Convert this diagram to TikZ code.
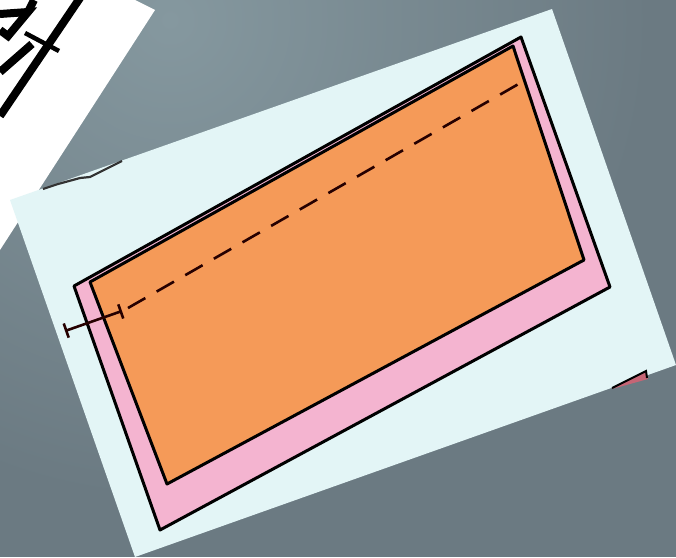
\documentclass[tikz,border=0pt]{standalone}
\usepackage{xcolor}
\usetikzlibrary{arrows.meta}
\definecolor{slate}{HTML}{6B7A82}
\definecolor{slatelight}{HTML}{85989F}
\definecolor{panelblue}{HTML}{E3F5F6}
\definecolor{sheetpink}{HTML}{F4B4D0}
\definecolor{sheetorange}{HTML}{F59A58}
\tikzset{
  outline/.style={draw=black, line width=3pt, line join=round},
  sketch/.style={draw=black, line width=8pt},
  dimline/.style={draw=black!85!red, line width=2.6pt},
  centreline/.style={dimline, dash pattern=on 20pt off 13pt},
}
\begin{document}
\begin{tikzpicture}[x=1pt, y=-1pt]
\useasboundingbox (0,0) rectangle (676,557);
% backdrop
\fill[slate] (0,0) rectangle (676,557);
\begin{scope}
\clip (0,0) rectangle (676,557);
\shade[inner color=slatelight, outer color=slate] (170,20) circle[radius=480];
\end{scope}
% white sheet behind
\fill[white] (0,0) -- (135,0) -- (155,10) -- (0,250) -- cycle;
\draw[sketch] (80,-2) -- (0,116);
\draw[sketch] (32,44) -- (0,72);
\draw[sketch, line width=4.5pt] (25,33) -- (59,51);
\draw[sketch] (0,14) -- (28,12) -- (8,36) -- (0,30);
\draw[sketch] (28,12) -- (34,0);
% panel
\fill[panelblue] (10,200) -- (552,9) -- (676,365) -- (135,557) -- cycle;
\draw[black!80, line width=2.2pt] (43,189) -- (58,184) -- (80,178) -- (90,177) -- (122,161);
% sheets
\path[outline, fill=sheetpink] (74,286) -- (521,37) -- (610,287) -- (160,530) -- cycle;
\path[outline, fill=sheetorange] (90,282) -- (513,46) -- (584,260) -- (167,484) -- cycle;
\coordinate (dimA) at (65,331);
\coordinate (dimB) at (122,311);
\coordinate (dimC) at (522,82);
\draw[dimline, {Bar[width=15pt]}-{Bar[width=15pt]}] (dimA) -- (dimB);
\draw[centreline] (dimB) ++(6,-3) -- (dimC);
% scrap at lower right
\fill[sheetpink!70!red!80!black] (612,389) -- (646,371) -- (648,379) -- cycle;
\draw[black, line width=2pt] (612,388) -- (646,371) -- (647,378);
\end{tikzpicture}
\end{document}
